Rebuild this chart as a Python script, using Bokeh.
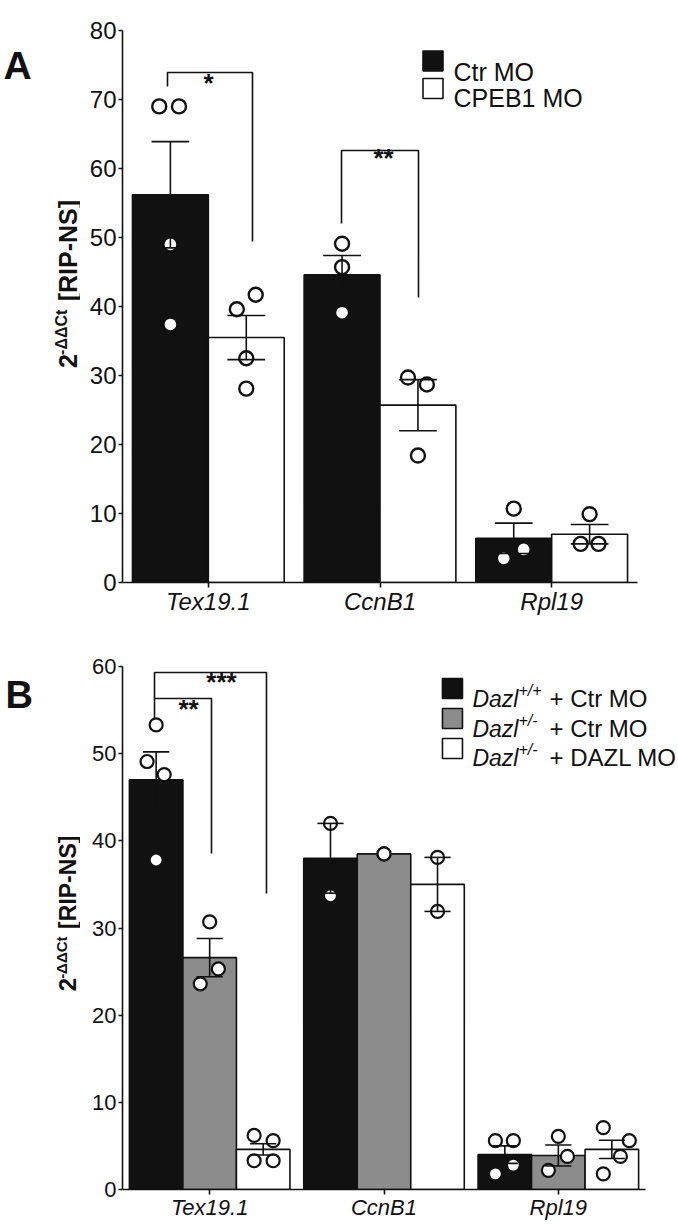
import math
from bokeh.plotting import figure
from bokeh.models import Range1d, Label, ColumnDataSource, FixedTicker
from bokeh.layouts import column, row
from bokeh.embed import file_html
from bokeh.resources import INLINE
from bokeh.core.properties import value

# ---------------- data ----------------
genes = ["Tex19.1", "CcnB1", "Rpl19"]

# Panel A
a_series = ["Ctr MO", "CPEB1 MO"]
a_ctr_mean = [56.2, 44.6, 6.4]
a_ctr_sem = [7.7, 2.8, 2.2]
a_cpeb_mean = [35.5, 25.7, 7.0]
a_cpeb_sem = [3.2, 3.7, 1.4]
a_ctr_points = [[69.0, 69.0, 49.0, 37.4], [49.1, 45.7, 39.1], [10.7, 4.8, 3.5]]
a_cpeb_points = [[41.7, 39.6, 32.5, 28.1], [29.7, 28.7, 18.4], [9.9, 5.6, 5.6]]
a_sig = ["*", "**"]
a_yticks = [0, 10, 20, 30, 40, 50, 60, 70, 80]

# Panel B
b_series = [("Dazl", "+/+", "+ Ctr MO"), ("Dazl", "+/-", "+ Ctr MO"), ("Dazl", "+/-", "+ DAZL MO")]
b_wt_mean = [47.0, 38.0, 4.0]
b_wt_sem = [3.2, 4.0, 1.0]
b_het_mean = [26.6, 38.5, 3.9]
b_het_sem = [2.2, 0.0, 1.2]
b_kd_mean = [4.6, 35.0, 4.6]
b_kd_sem = [0.65, 3.1, 1.05]
b_wt_points = [[53.3, 49.1, 47.6, 37.8], [42.0, 33.7], [5.6, 5.6, 2.8, 1.8]]
b_het_points = [[30.7, 25.3, 23.6], [38.5, 38.5], [6.1, 3.8, 2.2]]
b_kd_points = [[6.2, 5.6, 3.3, 3.3], [38.1, 31.9], [7.1, 5.6, 3.8, 1.8]]
b_sig = ["**", "***"]
b_yticks = [0, 10, 20, 30, 40, 50, 60]

y_title = ("2", "-\u0394\u0394Ct", "[RIP-NS]")
panel_letters = ["A", "B"]

# ---------------- layout (positions / styles) ----------------
FONT = "Liberation Sans"
INK = "#111111"
GRAY = "#8c8c8c"

a_jit_ctr = [[-0.065, 0.05, 0.0, 0.0], [0.0, 0.0, 0.0], [0.0, 0.058, -0.058]]
a_jit_cpeb = [[0.055, -0.055, 0.0, 0.0], [-0.058, 0.052, 0.0], [0.0, -0.052, 0.052]]
b_jit_wt = [[0.0, -0.052, 0.046, 0.0], [0.0, 0.0], [-0.054, 0.049, 0.049, -0.054]]
b_jit_het = [[0.0, 0.05, -0.054], [0.0, 0.0], [0.0, 0.052, -0.057]]
b_jit_kd = [[-0.052, 0.057, -0.052, 0.057], [0.0, 0.0], [-0.049, 0.1, 0.049, -0.049]]

LEFT_W = 80          # width of the side strip holding letter + y title
A_H, B_H = 638, 586  # figure heights (page: A 0..638, B 638..1224)


# page pixel -> data helpers for in-frame annotations
def xa(px): return (px - 122) / 171.67
def ya(py): return (582 - py) / 6.9
def xb(px): return (px - 122) / 174.35
def yb(py): return (1189 - py) / 8.717


def label(p, x, y, text, size, style="normal", angle=0.0, align="left"):
    p.add_layout(Label(x=x, y=y, text=text, text_font=FONT, text_font_size=size,
                       text_font_style=style, text_color=INK, angle=angle,
                       text_align=align, text_baseline="alphabetic"))


def side_strip(height):
    p = figure(width=LEFT_W, height=height, x_range=Range1d(0, LEFT_W), y_range=Range1d(0, height),
               output_backend="svg", toolbar_location=None, x_axis_location=None,
               y_axis_location=None, min_border=0)
    p.outline_line_color = None
    p.grid.visible = False
    p.background_fill_color = "white"
    p.border_fill_color = "white"
    return p


def make_fig(height, mb_right, mb_top, mb_bottom, x_end, ymax, yticks, tick_fs, cat_fs):
    p = figure(x_range=Range1d(0, x_end), y_range=Range1d(0, ymax),
               width=678 - LEFT_W, height=height, output_backend="svg", toolbar_location=None,
               min_border_left=122 - LEFT_W, min_border_right=mb_right,
               min_border_top=mb_top, min_border_bottom=mb_bottom)
    p.outline_line_color = None
    p.xgrid.visible = False
    p.ygrid.visible = False
    p.background_fill_color = "white"
    p.border_fill_color = "white"
    for ax in (p.xaxis[0], p.yaxis[0]):
        ax.axis_line_width = 1.6
        ax.axis_line_color = INK
        ax.major_tick_line_width = 1.6
        ax.major_tick_line_color = INK
        ax.major_tick_in = 0
        ax.minor_tick_line_color = None
        ax.major_label_text_font = FONT
        ax.major_label_text_color = INK
    yax = p.yaxis[0]
    yax.ticker = FixedTicker(ticks=yticks)
    yax.major_tick_out = 4
    yax.major_label_standoff = 2
    yax.major_label_text_font_size = tick_fs
    xax = p.xaxis[0]
    centers = [i + 0.5 for i in range(len(genes))]
    xax.ticker = FixedTicker(ticks=centers)
    xax.major_label_overrides = {c: g for c, g in zip(centers, genes)}
    xax.bounds = (0, len(genes))
    xax.major_tick_out = 5
    xax.major_label_standoff = 0
    xax.major_label_text_font_size = cat_fs
    xax.major_label_text_font_style = "italic"
    return p


def draw_group(p, means, sems, pts, jits, offset, width, color, cap, msize, mlw):
    xc = [i + 0.5 + offset for i in range(len(genes))]
    src = ColumnDataSource(dict(x=xc, mean=means))
    p.vbar(x="x", top="mean", bottom=0, width=width, source=src,
           fill_color=color, line_color=INK, line_width=1.6)
    xs, ys = [], []
    for i, (vals, js) in enumerate(zip(pts, jits)):
        for v, j in zip(vals, js):
            xs.append(i + 0.5 + offset + j)
            ys.append(v)
    p.scatter(xs, ys, size=msize, fill_color="white", line_color=INK, line_width=mlw)
    ex = [x for x, s in zip(xc, sems) if s > 0]
    lo = [m - s for m, s in zip(means, sems) if s > 0]
    hi = [m + s for m, s in zip(means, sems) if s > 0]
    p.segment(x0=ex, x1=ex, y0=lo, y1=hi, line_color=INK, line_width=1.6)
    for yy in (lo, hi):
        p.segment(x0=[x - cap for x in ex], x1=[x + cap for x in ex], y0=yy, y1=yy,
                  line_color=INK, line_width=1.6)


def bracket(p, x0, x1, y_left, y_top, y_right):
    p.line([x0, x0, x1, x1], [y_left, y_top, y_top, y_right], line_color=INK, line_width=1.6)


def stars(p, xs, ys, texts):
    p.text(x=xs, y=ys, text=texts, text_font=value(FONT), text_font_size="26px",
           text_font_style="bold", text_align="center", text_baseline="alphabetic",
           text_color=INK)


# ================= Panel A =================
sA = side_strip(A_H)
pA = make_fig(A_H, 678 - 637, 30, A_H - 582, 3.0, 80, a_yticks, "24px", "24px")
draw_group(pA, a_ctr_mean, a_ctr_sem, a_ctr_points, a_jit_ctr, -0.221, 0.442, INK, 0.11, 14, 2.4)
draw_group(pA, a_cpeb_mean, a_cpeb_sem, a_cpeb_points, a_jit_cpeb, 0.221, 0.442, "white", 0.11, 14, 2.4)

bracket(pA, xa(167), xa(252), ya(86), ya(72), ya(241))
bracket(pA, xa(341), xa(418), ya(223), ya(150), ya(297))
stars(pA, [xa(208), xa(383)], [ya(82), ya(157)], a_sig)

pA.scatter([xa(432.5), xa(432.5)], [ya(60.5), ya(88)], marker="square", size=20,
           fill_color=[INK, "white"], line_color=INK, line_width=1.6)
label(pA, xa(453), ya(71), a_series[0], "25px")
label(pA, xa(453), ya(97), a_series[1], "25px")

# side strip A: letter + rotated y title (strip coords: x = page x, y = A_H - page y)
label(sA, 3, A_H - 40, panel_letters[0], "39px", "bold")
label(sA, 67, A_H - 390, y_title[0], "25px", "bold", math.pi / 2)
label(sA, 61, A_H - 375, y_title[1], "16px", "bold", math.pi / 2)
label(sA, 67, A_H - 313, y_title[2], "25px", "bold", math.pi / 2)

# ================= Panel B =================
sB = side_strip(B_H)
pB = make_fig(B_H, 0, 666 - 638, 1224 - 1189, 3.0 + 33 / 174.35, 60, b_yticks, "22px", "22px")
draw_group(pB, b_wt_mean, b_wt_sem, b_wt_points, b_jit_wt, -0.307, 0.307, INK, 0.075, 13, 2.2)
draw_group(pB, b_het_mean, b_het_sem, b_het_points, b_jit_het, 0.0, 0.307, GRAY, 0.075, 13, 2.2)
draw_group(pB, b_kd_mean, b_kd_sem, b_kd_points, b_jit_kd, 0.307, 0.307, "white", 0.075, 13, 2.2)

bracket(pB, xb(154), xb(266), yb(698), yb(672), yb(893))
bracket(pB, xb(154), xb(211), yb(718), yb(698), yb(853))
stars(pB, [xb(188), xb(221)], [yb(708), yb(681)], b_sig)

leg_y = [698, 728, 757]
pB.scatter([xb(452)] * 3, [yb(688), yb(718), yb(748)], marker="square", size=20,
           fill_color=[INK, GRAY, "white"], line_color=INK, line_width=1.6)
for (gene_name, sup, rest), by in zip(b_series, leg_y):
    label(pB, xb(472), yb(by), gene_name, "23px", "italic")
    label(pB, xb(518), yb(by - 8), sup, "16px", "italic")
    label(pB, xb(549), yb(by), rest, "24px")

label(sB, 5, 1224 - 670, panel_letters[1], "38px", "bold")
label(sB, 67, 1224 - 1002, y_title[0], "24px", "bold", math.pi / 2)
label(sB, 61, 1224 - 988, y_title[1], "15px", "bold", math.pi / 2)
label(sB, 67, 1224 - 932, y_title[2], "23px", "bold", math.pi / 2)

layout = column(row(sA, pA, spacing=0), row(sB, pB, spacing=0), spacing=0)
open("out.html", "w").write(file_html(layout, INLINE))
